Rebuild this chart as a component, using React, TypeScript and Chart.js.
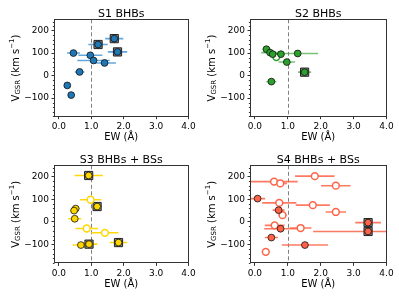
import React, { useEffect, useRef } from 'react';
import { Chart, registerables } from 'chart.js';

Chart.register(...registerables);

// ---------- shared axes ----------
const xTicks = [0, 1, 2, 3, 4];
const yTicks = [-100, 0, 100, 200];
const yMinorStep = 20;
const xRange = [-0.15, 4.0];
const yRange = [-183, 250];
const refLineEw = 1.0;
const xLabel = 'EW (Å)';

// ---------- S1 BHBs ----------
const s1Ew = [0.45, 0.97, 1.07, 1.41, 0.64, 0.26, 0.38, 1.21, 1.71, 1.81];
const s1V = [100, 90, 67, 56, 16, -44, -87, 138, 164, 105];
const s1Err = [0.2, 0.37, 0.5, 0.35, 0.15, 0.05, 0.1, 0.3, 0.28, 0.3];
const s1Open = [false, false, false, false, false, false, false, false, false, false];
const s1Boxed = [false, false, false, false, false, false, false, true, true, true];

// ---------- S2 BHBs ----------
const s2Ew = [0.35, 0.46, 0.54, 0.65, 0.79, 1.3, 0.97, 1.51, 0.5];
const s2V = [117, 102, 95, 82, 95, 98, 60, 15, -27];
const s2Err = [0.12, 0.27, 0.1, 0.1, 0.12, 0.62, 0.25, 0.2, 0.15];
const s2Open = [false, false, false, true, false, false, false, false, false];
const s2Boxed = [false, false, false, false, false, false, false, true, false];

// ---------- S3 BHBs + BSs ----------
const s3Ew = [0.92, 0.98, 1.18, 0.52, 0.47, 0.49, 0.86, 1.42, 0.68, 0.93, 1.84];
const s3V = [205, 98, 68, 59, 50, 14, -29, -48, -102, -98, -91];
const s3Err = [0.44, 0.33, 0.15, 0.12, 0.12, 0.2, 0.35, 0.42, 0.26, 0.26, 0.27];
const s3Open = [false, true, false, false, false, false, true, true, false, false, false];
const s3Boxed = [true, false, true, false, false, false, false, false, false, true, true];

// ---------- S4 BHBs + BSs ----------
const s4Ew = [1.82, 0.58, 0.77, 2.46, 0.08, 0.74, 1.76, 0.72, 0.84, 2.46, 0.6, 0.78, 1.39, 3.44, 3.44, 0.5, 1.52, 0.33];
const s4V = [202, 178, 170, 160, 103, 84, 74, 52, 30, 44, -15, -30, -27, -3, -42, -69, -102, -132];
const s4Err = [0.6, 0.72, 0.2, 0.45, 0.23, 0.52, 0.52, 0.18, 0.12, 0.31, 0.3, 0.5, 0.33, 0.39, 1.67, 0.2, 0.7, 0.08];
const s4Open = [true, true, true, true, false, true, true, false, true, true, true, false, true, false, false, false, false, true];
const s4Boxed = [false, false, false, false, false, false, false, false, false, false, false, false, false, true, true, false, false, false];

const FONT = 'DejaVu Sans';

type Panel = {
  title: string;
  ew: number[];
  v: number[];
  err: number[];
  open: boolean[];
  boxed: boolean[];
  color: string;
  errColor: string;
  left: number;
  top: number;
  width: number;
  height: number;
  yWidth: number;
  rightPad: number;
  xHeight: number;
};

const panels: Panel[] = [
  { title: 'S1 BHBs', ew: s1Ew, v: s1V, err: s1Err, open: s1Open, boxed: s1Boxed, color: '#1f77b4', errColor: 'rgba(70,150,215,0.85)', left: 0, top: 0, width: 200, height: 150, yWidth: 54, rightPad: 11.5, xHeight: 33.3 },
  { title: 'S2 BHBs', ew: s2Ew, v: s2V, err: s2Err, open: s2Open, boxed: s2Boxed, color: '#2ca02c', errColor: 'rgba(60,170,60,0.7)', left: 200, top: 0, width: 199, height: 150, yWidth: 50, rightPad: 12.5, xHeight: 33.3 },
  { title: 'S3 BHBs + BSs', ew: s3Ew, v: s3V, err: s3Err, open: s3Open, boxed: s3Boxed, color: '#ffd700', errColor: 'rgba(255,215,0,0.95)', left: 0, top: 146, width: 200, height: 151, yWidth: 54, rightPad: 11.5, xHeight: 33.6 },
  { title: 'S4 BHBs + BSs', ew: s4Ew, v: s4V, err: s4Err, open: s4Open, boxed: s4Boxed, color: '#ff6347', errColor: 'rgba(255,99,71,0.85)', left: 200, top: 146, width: 199, height: 151, yWidth: 50, rightPad: 12.5, xHeight: 33.6 },
];

const TOP_PAD = 19.3;

function fmtY(v: number) {
  return v < 0 ? '\u2212' + Math.abs(v) : String(v);
}

function makePlugin(p: Panel) {
  return {
    id: 'decor',
    beforeDatasetsDraw(chart: any) {
      const { ctx, chartArea: a } = chart;
      const xs = chart.scales.x;
      const ys = chart.scales.y;
      ctx.save();
      ctx.beginPath();
      ctx.rect(a.left, a.top, a.right - a.left, a.bottom - a.top);
      ctx.clip();
      // reference dashed line
      const xr = Math.round(xs.getPixelForValue(refLineEw)) + 0.5;
      ctx.strokeStyle = '#808080';
      ctx.lineWidth = 1;
      ctx.setLineDash([4, 2.5]);
      ctx.beginPath();
      ctx.moveTo(xr, a.top);
      ctx.lineTo(xr, a.bottom);
      ctx.stroke();
      ctx.setLineDash([]);
      // error bars
      ctx.strokeStyle = p.errColor;
      ctx.lineWidth = 1.6;
      for (let i = 0; i < p.ew.length; i++) {
        const y = ys.getPixelForValue(p.v[i]);
        ctx.beginPath();
        ctx.moveTo(xs.getPixelForValue(p.ew[i] - p.err[i]), y);
        ctx.lineTo(xs.getPixelForValue(p.ew[i] + p.err[i]), y);
        ctx.stroke();
      }
      ctx.restore();
    },
    afterDraw(chart: any) {
      const { ctx, chartArea: a } = chart;
      const ys = chart.scales.y;
      ctx.save();
      // frame
      const l = Math.round(a.left) + 0.5;
      const r = Math.round(a.right) - 0.5;
      const t = Math.round(a.top) + 0.5;
      const b = Math.round(a.bottom) - 0.5;
      ctx.strokeStyle = '#333';
      ctx.lineWidth = 1;
      ctx.strokeRect(l, t, r - l, b - t);
      // minor y ticks
      ctx.beginPath();
      const start = Math.ceil(yRange[0] / yMinorStep) * yMinorStep;
      for (let v = start; v <= yRange[1]; v += yMinorStep) {
        if (v % 100 === 0) continue;
        const py = Math.round(ys.getPixelForValue(v)) + 0.5;
        ctx.moveTo(l, py);
        ctx.lineTo(l - 1.6, py);
      }
      ctx.stroke();
      // title
      ctx.fillStyle = '#000';
      ctx.font = `11px "${FONT}"`;
      ctx.textAlign = 'center';
      ctx.textBaseline = 'alphabetic';
      ctx.fillText(p.title, (a.left + a.right) / 2, a.top - 2.6);
      // y label with sub/superscript
      const parts = [
        { t: 'V', s: 10, dy: 0 },
        { t: 'GSR', s: 7, dy: 2.2 },
        { t: ' (km s', s: 10, dy: 0 },
        { t: '\u22121', s: 7, dy: -4 },
        { t: ')', s: 10, dy: 0 },
      ];
      let total = 0;
      for (const pt of parts) {
        ctx.font = `${pt.s}px "${FONT}"`;
        total += ctx.measureText(pt.t).width;
      }
      const cx = a.left - 38;
      const cy = (a.top + a.bottom) / 2;
      ctx.translate(cx, cy);
      ctx.rotate(-Math.PI / 2);
      ctx.textBaseline = 'middle';
      ctx.textAlign = 'left';
      let x0 = -total / 2;
      for (const pt of parts) {
        ctx.font = `${pt.s}px "${FONT}"`;
        ctx.fillText(pt.t, x0, pt.dy);
        x0 += ctx.measureText(pt.t).width;
      }
      ctx.restore();
    },
  };
}

function pick(p: Panel, f: (i: number) => boolean) {
  const out: { x: number; y: number }[] = [];
  for (let i = 0; i < p.ew.length; i++) if (f(i)) out.push({ x: p.ew[i], y: p.v[i] });
  return out;
}

function PanelChart({ p }: { p: Panel }) {
  const ref = useRef<HTMLCanvasElement>(null);
  useEffect(() => {
    if (!ref.current) return;
    const tickFont = { family: FONT, size: 9 };
    const chart = new Chart(ref.current, {
      type: 'scatter',
      data: {
        datasets: [
          {
            data: pick(p, (i) => !p.open[i]),
            pointStyle: 'circle',
            pointRadius: 3.4,
            pointBackgroundColor: p.color,
            pointBorderColor: '#111',
            pointBorderWidth: 0.8,
            order: 1,
          },
          {
            data: pick(p, (i) => p.open[i]),
            pointStyle: 'circle',
            pointRadius: 3.4,
            pointBackgroundColor: '#ffffff',
            pointBorderColor: p.color,
            pointBorderWidth: 1.5,
            order: 2,
          },
          {
            data: pick(p, (i) => p.boxed[i]),
            pointStyle: 'rect',
            pointRadius: 5.8,
            pointBackgroundColor: '#8a8a8a',
            pointBorderColor: '#222',
            pointBorderWidth: 1,
            order: 3,
          },
        ],
      } as any,
      options: {
        animation: false,
        responsive: false,
        devicePixelRatio: 1,
        layout: { padding: { left: 0, right: p.rightPad, top: TOP_PAD, bottom: 0 } },
        plugins: {
          legend: { display: false },
          tooltip: { enabled: false },
          title: { display: false },
        },
        scales: {
          x: {
            type: 'linear',
            min: xRange[0],
            max: xRange[1],
            afterBuildTicks: (s: any) => {
              s.ticks = xTicks.map((v) => ({ value: v }));
            },
            afterFit: (s: any) => {
              s.height = p.xHeight;
            },
            ticks: {
              autoSkip: false,
              maxRotation: 0,
              color: '#000',
              font: tickFont,
              padding: 2,
              callback: (v: any) => Number(v).toFixed(1),
            },
            grid: { display: true, drawOnChartArea: false, drawTicks: true, tickLength: 2.5, tickColor: '#333', tickWidth: 1 },
            border: { display: false },
            title: {
              display: true,
              text: xLabel,
              color: '#000',
              font: { family: FONT, size: 10, lineHeight: 1.2 },
              padding: { top: 0, bottom: 6.5 },
            },
          },
          y: {
            type: 'linear',
            min: yRange[0],
            max: yRange[1],
            afterBuildTicks: (s: any) => {
              s.ticks = yTicks.map((v) => ({ value: v }));
            },
            afterFit: (s: any) => {
              s.width = p.yWidth;
            },
            ticks: {
              autoSkip: false,
              color: '#000',
              font: tickFont,
              padding: 2.5,
              callback: (v: any) => fmtY(Number(v)),
            },
            grid: { display: true, drawOnChartArea: false, drawTicks: true, tickLength: 2.5, tickColor: '#333', tickWidth: 1 },
            border: { display: false },
          },
        },
      } as any,
      plugins: [makePlugin(p)],
    });
    return () => chart.destroy();
  }, [p]);
  return (
    <canvas
      ref={ref}
      width={p.width}
      height={p.height}
      style={{ position: 'absolute', left: p.left, top: p.top, width: p.width, height: p.height }}
    />
  );
}

export default function App() {
  useEffect(() => {
    document.body.style.margin = '0';
    document.body.style.background = '#ffffff';
  }, []);
  return (
    <div style={{ position: 'absolute', left: 0, top: 0, width: 399, height: 299, background: '#ffffff' }}>
      {panels.map((p) => (
        <PanelChart key={p.title} p={p} />
      ))}
    </div>
  );
}
